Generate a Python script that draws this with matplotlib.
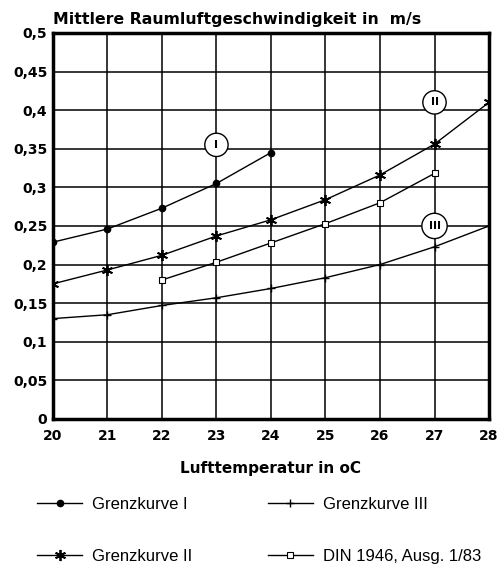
import numpy as np
import matplotlib.pyplot as plt

plt.rcParams['font.family'] = ['DejaVu Sans']

# Lufttemperatur in oC
temp = [20, 21, 22, 23, 24, 25, 26, 27, 28]

kurve_1_t = [20, 21, 22, 23, 24]
kurve_1 = [0.229, 0.246, 0.273, 0.305, 0.345]

kurve_2 = [0.175, 0.193, 0.212, 0.237, 0.258, 0.284, 0.316, 0.356, 0.410]

kurve_3 = [0.130, 0.135, 0.147, 0.157, 0.169, 0.183, 0.200, 0.223, 0.250]

din_t = [22, 23, 24, 25, 26, 27]
din = [0.180, 0.203, 0.228, 0.253, 0.280, 0.318]

labels = ["I", "II", "III"]
label_pos = [(23, 0.355), (27, 0.41), (27, 0.25)]


fig = plt.figure(figsize=(4.99, 5.72), dpi=100)
ax = fig.add_axes([0.106, 0.2675, 0.874, 0.675])

ax.plot(kurve_1_t, kurve_1, color="black", lw=1.0, marker="o", ms=4.5,
        label="Grenzkurve I")
ax.plot(temp, kurve_2, color="black", lw=1.0, marker=(6, 2, 0), ms=8,
        mew=1.3, label="Grenzkurve II")
ax.plot(temp, kurve_3, color="black", lw=1.0, marker="+", ms=6,
        mew=1.0, label="Grenzkurve III")
ax.plot(din_t, din, color="black", lw=1.0, marker="s", ms=5,
        mfc="white", mew=0.8, label="DIN 1946, Ausg. 1/83")

for txt, (x, y) in zip(labels, label_pos):
    ax.text(x, y, txt, ha="center", va="center", fontsize=8,
            fontweight="bold", zorder=5,
            bbox=dict(boxstyle="circle,pad=0.6", fc="white", ec="black",
                      lw=1.0))

ax.set_xlim(20, 28)
ax.set_ylim(0, 0.5)
ax.set_xticks(temp)
yt = np.arange(0, 0.501, 0.05)
ax.set_yticks(yt)
ax.set_yticklabels(["0", "0,05", "0,1", "0,15", "0,2", "0,25", "0,3",
                    "0,35", "0,4", "0,45", "0,5"])
ax.tick_params(length=0, labelsize=10, pad=4)
for lab in ax.get_xticklabels() + ax.get_yticklabels():
    lab.set_fontweight("bold")
ax.tick_params(axis="x", pad=7)

ax.grid(True, color="black", lw=1.1)
ax.set_axisbelow(True)
for side in ["left", "bottom", "right", "top"]:
    ax.spines[side].set_linewidth(2.5)

fig.text(0.106, 0.953, "Mittlere Raumluftgeschwindigkeit in  m/s",
         fontsize=11.3, fontweight="bold", ha="left", va="bottom")
ax.set_xlabel("Lufttemperatur in oC", fontsize=11, fontweight="bold",
              labelpad=13)

fig.legend(loc="upper left", bbox_to_anchor=(0.045, 0.158), ncol=2,
           frameon=False, prop={"family": "Liberation Sans", "size": 12},
           handlelength=2.7, columnspacing=4.5, labelspacing=2.25,
           handletextpad=0.6)

fig.savefig("out.png", dpi=100)
